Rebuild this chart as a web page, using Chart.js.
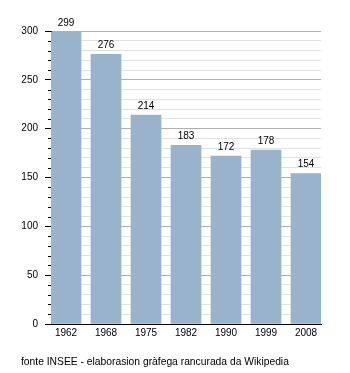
<!DOCTYPE html>
<html>
<head>
    <meta charset="UTF-8" />
    <title>Populacion</title>
    <script src="https://cdn.jsdelivr.net/npm/chart.js@4/dist/chart.umd.min.js"></script>
    <style>
        html, body { margin: 0; padding: 0; background: #fff; }
        #wrap { position: relative; width: 350px; height: 373px; }
        #source {
            position: absolute; left: 21px; top: 356px;
            font: 10.3px "Liberation Sans", Arial, sans-serif; color: #000;
            white-space: nowrap;
        }
    </style>
</head>
<body>
    <div id="wrap">
        <canvas id="chart" width="350" height="373"></canvas>
        <div id="source">fonte INSEE - elaborasion gràfega rancurada da Wikipedia</div>
    </div>

    <script>
        const years = ['1962', '1968', '1975', '1982', '1990', '1999', '2008'];
        const population = [299, 276, 214, 183, 172, 178, 154];
        const yTicks = [0, 50, 100, 150, 200, 250, 300];

        const FONT = { family: '"Liberation Sans", Arial, sans-serif', size: 10 };

        // values written above each bar
        const valueLabels = {
            id: 'valueLabels',
            afterDatasetsDraw(chart) {
                const ctx = chart.ctx;
                const meta = chart.getDatasetMeta(0);
                ctx.save();
                ctx.font = `${FONT.size}px ${FONT.family}`;
                ctx.fillStyle = '#000';
                ctx.textAlign = 'center';
                ctx.textBaseline = 'middle';
                meta.data.forEach((bar, i) => {
                    ctx.fillText(population[i], bar.x, bar.y - 9);
                });
                ctx.restore();
            }
        };

        // short ticks on the left axis for every 10 between the labelled ones
        const minorTicks = {
            id: 'minorTicks',
            afterDraw(chart) {
                const ctx = chart.ctx;
                const y = chart.scales.y;
                const left = chart.chartArea.left;
                ctx.save();
                ctx.strokeStyle = '#000';
                ctx.lineWidth = 1;
                ctx.beginPath();
                for (let v = 0; v <= 300; v += 10) {
                    if (yTicks.includes(v)) continue;
                    const py = Math.round(y.getPixelForValue(v)) + 0.5;
                    ctx.moveTo(left - 3, py);
                    ctx.lineTo(left, py);
                }
                ctx.stroke();
                ctx.restore();
            }
        };

        new Chart('chart', {
            type: 'bar',
            data: {
                datasets: [{
                    data: population.map((v, i) => ({ x: i, y: v })),
                    backgroundColor: '#99b3cc',
                    borderWidth: 0,
                    barThickness: 30
                }]
            },
            plugins: [valueLabels, minorTicks],
            options: {
                responsive: false,
                animation: false,
                layout: { padding: { top: 31, right: 29, bottom: 0, left: 0 } },
                scales: {
                    x: {
                        type: 'linear',
                        offset: false,
                        min: -0.375,
                        max: 6.375,
                        grid: { display: false, drawTicks: false },
                        border: { display: true, color: '#000', width: 1 },
                        ticks: {
                            stepSize: 1,
                            includeBounds: false,
                            autoSkip: false,
                            maxRotation: 0,
                            padding: 3,
                            color: '#000',
                            font: FONT,
                            callback: v => years[v] ?? ''
                        },
                        afterFit: scale => { scale.height = 49; }
                    },
                    y: {
                        min: 0,
                        max: 300,
                        grid: {
                            color: c => yTicks.includes(c.tick.value) ? '#b0b0b0' : '#e2e2e2',
                            tickColor: c => yTicks.includes(c.tick.value) ? '#000' : 'rgba(0,0,0,0)',
                            tickLength: 6
                        },
                        border: { display: true, color: '#000', width: 1 },
                        ticks: {
                            stepSize: 10,
                            autoSkip: false,
                            padding: 7,
                            color: '#000',
                            font: FONT,
                            callback: v => yTicks.includes(v) ? v : ''
                        },
                        afterFit: scale => { scale.width = 51; }
                    }
                },
                plugins: {
                    legend: { display: false },
                    tooltip: { enabled: false }
                }
            }
        });
    </script>
</body>
</html>
